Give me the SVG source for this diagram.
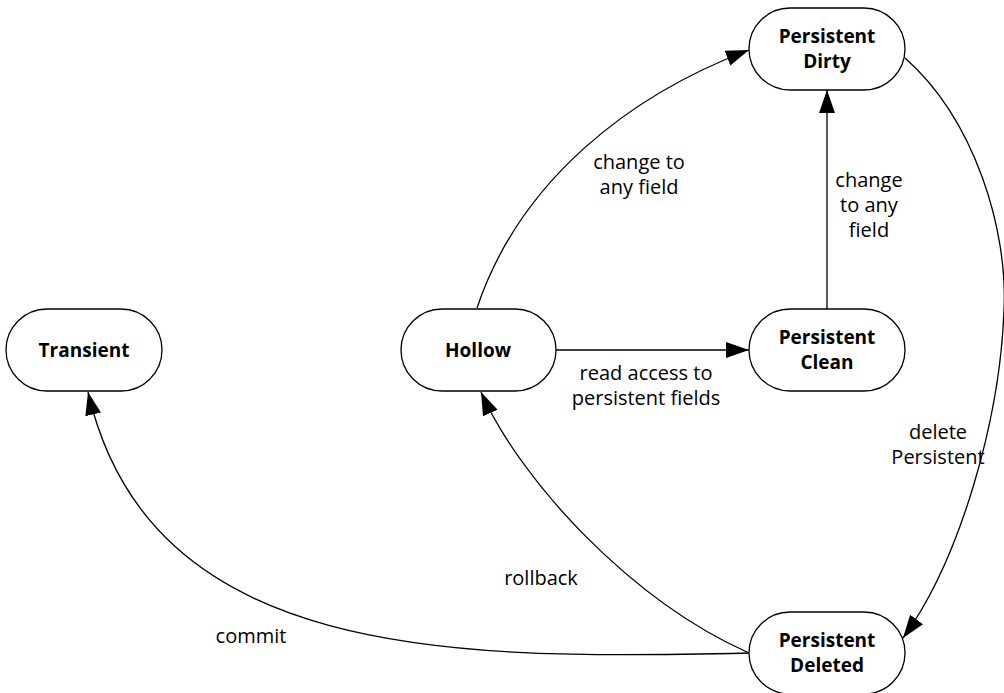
<svg xmlns="http://www.w3.org/2000/svg" width="1004" height="693" viewBox="0 0 1004 693">
<style>
.node rect{fill:#fff;stroke:#000;stroke-width:1.3}
.nl{font-family:"Open Sans","Noto Sans",sans-serif;font-size:19px;font-weight:bold;text-anchor:middle;fill:#000}
.el{font-family:"Open Sans","Noto Sans",sans-serif;font-size:20px;text-anchor:middle;fill:#000}
.edge{fill:none;stroke:#000;stroke-width:1.3;marker-end:url(#arr)}
</style>
<defs>
<marker id="arr" markerUnits="userSpaceOnUse" markerWidth="24" markerHeight="18" refX="23" refY="8" orient="auto">
<path d="M0,0 L23,8 L0,16 Z" fill="#000"/>
</marker>
</defs>
<rect width="1004" height="693" fill="#fff"/>
<g id="connectors">
<path class="edge" d="M556,350 L749,350"/>
<path class="edge" d="M827,309 L827,90"/>
<path class="edge" d="M477,308 C520,180 630,95 749,50"/>
<path class="edge" d="M905,58 C975,120 1008,230 1004,310 C1000,420 960,560 903,638"/>
<path class="edge" d="M749,653 C630,600 520,480 481,392"/>
<path class="edge" d="M749,653 C450,660 150,660 88,392"/>
</g>
<g id="edge-labels">
<text class="el" x="639" y="169">change to</text>
<text class="el" x="639" y="194">any field</text>
<text class="el" x="869" y="187">change</text>
<text class="el" x="869" y="212">to any</text>
<text class="el" x="869" y="237">field</text>
<text class="el" x="646" y="380">read access to</text>
<text class="el" x="646" y="405">persistent fields</text>
<text class="el" x="938" y="439">delete</text>
<text class="el" x="938" y="464">Persistent</text>
<text class="el" x="541" y="585">rollback</text>
<text class="el" x="251" y="643">commit</text>
</g>
<g id="transient" class="node">
<rect x="6" y="309" width="156" height="82" rx="41"/>
<text class="nl" x="84" y="357">Transient</text>
</g>
<g id="hollow" class="node">
<rect x="401" y="309" width="155" height="82" rx="41"/>
<text class="nl" x="478" y="357">Hollow</text>
</g>
<g id="persistent-clean" class="node">
<rect x="749" y="309" width="156" height="82" rx="41"/>
<text class="nl" x="827" y="344">Persistent</text>
<text class="nl" x="827" y="369">Clean</text>
</g>
<g id="persistent-dirty" class="node">
<rect x="749" y="8" width="156" height="82" rx="41"/>
<text class="nl" x="827" y="43">Persistent</text>
<text class="nl" x="827" y="68">Dirty</text>
</g>
<g id="persistent-deleted" class="node">
<rect x="749" y="612" width="156" height="82" rx="41"/>
<text class="nl" x="827" y="647">Persistent</text>
<text class="nl" x="827" y="672">Deleted</text>
</g>
</svg>
